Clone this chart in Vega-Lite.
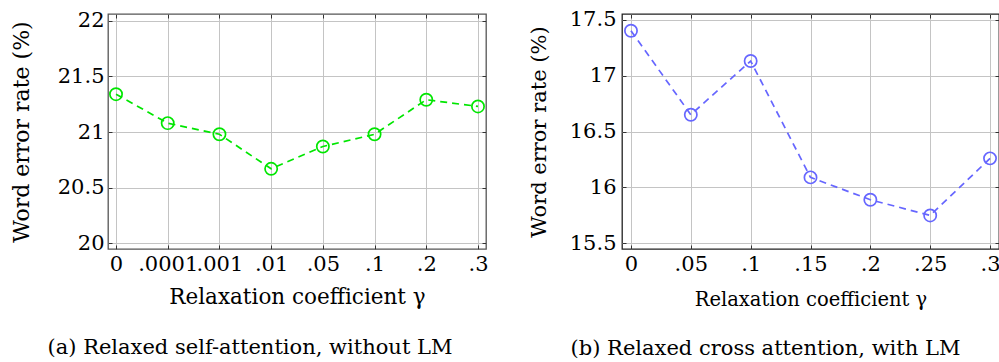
{
  "$schema": "https://vega.github.io/schema/vega-lite/v6.json",
  "background": "white",
  "padding": {"left": 9, "top": 7, "right": 0, "bottom": 0},
  "bounds": "flush",
  "spacing": 136,
  "config": {
    "font": "DejaVu Serif",
    "axis": {
      "labelFont": "DejaVu Serif",
      "titleFont": "DejaVu Serif",
      "titleFontWeight": "normal",
      "labelColor": "black",
      "titleColor": "black",
      "gridColor": "#c4c4c4",
      "gridWidth": 1,
      "domain": false,
      "ticks": true,
      "tickSize": -4,
      "tickColor": "#333333",
      "tickWidth": 1
    },
    "title": {"font": "DejaVu Serif", "fontWeight": "normal", "color": "black"}
  },
  "hconcat": [
    {
      "width": 378,
      "height": 235,
      "view": {"stroke": "#555555", "strokeWidth": 1.3},
      "title": {"text": "(a) Relaxed self-attention, without LM", "orient": "bottom", "fontSize": 21, "offset": 29, "dx": -47},
      "data": {"values": [
        {"gamma": "0", "wer": 21.34},
        {"gamma": ".0001", "wer": 21.08},
        {"gamma": ".001", "wer": 20.98},
        {"gamma": ".01", "wer": 20.67},
        {"gamma": ".05", "wer": 20.87},
        {"gamma": ".1", "wer": 20.98},
        {"gamma": ".2", "wer": 21.29},
        {"gamma": ".3", "wer": 21.23}
      ]},
      "resolve": {"axis": {"x": "independent", "y": "independent"}},
      "layer": [
        {
          "mark": {"type": "line", "color": "#00e600", "strokeWidth": 1.7, "strokeDash": [7, 5]},
          "encoding": {
            "x": {"field": "gamma", "type": "nominal", "sort": null,
                  "scale": {"type": "point", "padding": 0.155},
                  "axis": {"title": "Relaxation coefficient γ", "labelAngle": 0, "labelFontSize": 21, "titleFontSize": 21.5, "labelPadding": 8, "titlePadding": 12, "grid": true, "labelOverlap": false}},
            "y": {"field": "wer", "type": "quantitative",
                  "scale": {"domain": [19.95, 22.06], "nice": false, "zero": false},
                  "axis": {"title": "Word error rate (%)", "values": [20, 20.5, 21, 21.5, 22], "format": ".3~r", "labelFontSize": 21, "titleFontSize": 22, "labelPadding": 8, "titlePadding": 24, "grid": true}}
          }
        },
        {
          "mark": {"type": "point", "shape": "circle", "filled": false, "color": "#00e600", "strokeWidth": 1.7, "size": 150, "opacity": 1},
          "encoding": {
            "x": {"field": "gamma", "type": "nominal", "sort": null,
                  "axis": {"orient": "top", "title": null, "labels": false, "grid": false}},
            "y": {"field": "wer", "type": "quantitative",
                  "axis": {"orient": "right", "title": null, "labels": false, "grid": false, "values": [20, 20.5, 21, 21.5, 22]}}
          }
        }
      ]
    },
    {
      "width": 377,
      "height": 235,
      "view": {"stroke": "#222222", "strokeWidth": 1.3},
      "title": {"text": "(b) Relaxed cross attention, with LM", "orient": "bottom", "fontSize": 21, "offset": 29, "dx": -45},
      "data": {"values": [
        {"gamma": 0, "wer": 17.40},
        {"gamma": 0.05, "wer": 16.65},
        {"gamma": 0.1, "wer": 17.13},
        {"gamma": 0.15, "wer": 16.09},
        {"gamma": 0.2, "wer": 15.89},
        {"gamma": 0.25, "wer": 15.75},
        {"gamma": 0.3, "wer": 16.26}
      ]},
      "resolve": {"axis": {"x": "independent", "y": "independent"}},
      "layer": [
        {
          "mark": {"type": "line", "color": "#6666ff", "strokeWidth": 1.7, "strokeDash": [7, 5]},
          "encoding": {
            "x": {"field": "gamma", "type": "quantitative",
                  "scale": {"domain": [-0.0075, 0.3075], "nice": false, "zero": false},
                  "axis": {"title": "Relaxation coefficient γ", "values": [0, 0.05, 0.1, 0.15, 0.2, 0.25, 0.3],
                           "labelExpr": "datum.value == 0 ? '0' : substring(format(datum.value, '.2~f'), 1)",
                           "labelFontSize": 21, "titleFontSize": 19.5, "labelPadding": 8, "titlePadding": 16, "grid": true, "labelFlush": false}},
            "y": {"field": "wer", "type": "quantitative",
                  "scale": {"domain": [15.45, 17.55], "nice": false, "zero": false},
                  "axis": {"title": "Word error rate (%)", "values": [15.5, 16, 16.5, 17, 17.5], "format": ".3~r", "labelFontSize": 21, "titleFontSize": 21, "labelPadding": 10, "titlePadding": 20, "grid": true}}
          }
        },
        {
          "mark": {"type": "point", "shape": "circle", "filled": false, "color": "#6666ff", "strokeWidth": 1.7, "size": 150, "opacity": 1},
          "encoding": {
            "x": {"field": "gamma", "type": "quantitative",
                  "axis": {"orient": "top", "title": null, "labels": false, "grid": false, "values": [0, 0.05, 0.1, 0.15, 0.2, 0.25, 0.3]}},
            "y": {"field": "wer", "type": "quantitative",
                  "axis": {"orient": "right", "title": null, "labels": false, "grid": false, "values": [15.5, 16, 16.5, 17, 17.5]}}
          }
        }
      ]
    }
  ]
}
